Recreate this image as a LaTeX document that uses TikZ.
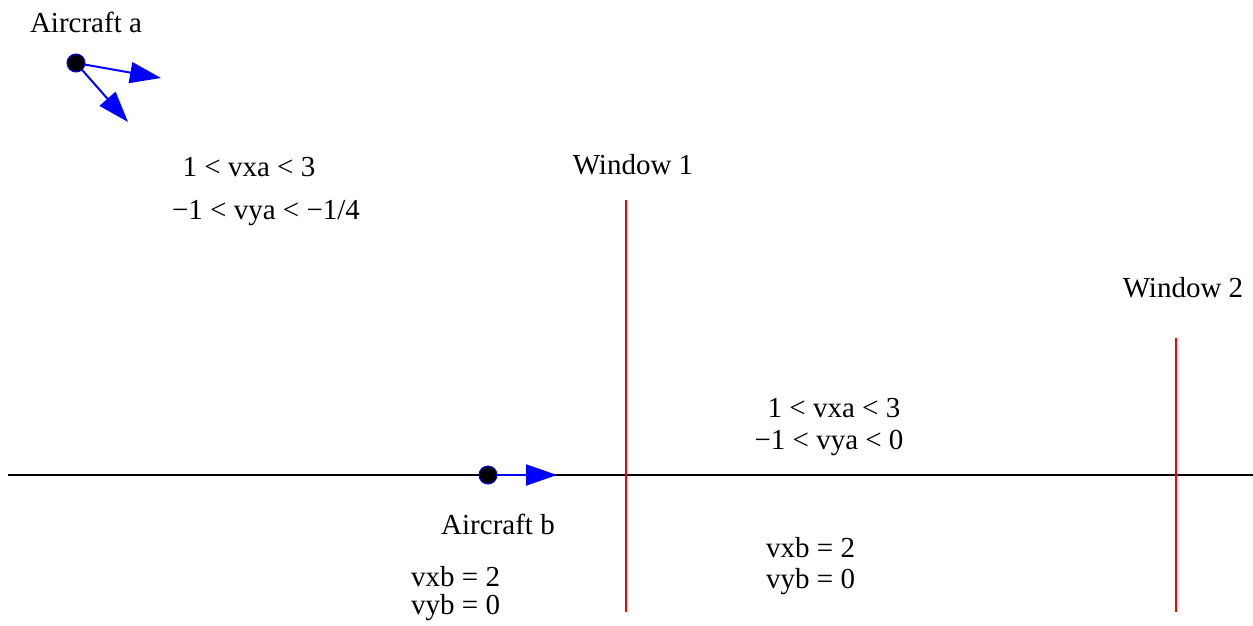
\documentclass[tikz,border=0pt]{standalone}
\usepackage{fontspec}
\setmainfont{Liberation Serif}
\usetikzlibrary{arrows.meta}
\begin{document}
\begin{tikzpicture}[x=1pt,y=-1pt,
  lbl/.style={inner sep=0pt,font=\fontsize{29}{34}\selectfont},
  lblpair/.style={inner sep=0pt,align=left,anchor=north west,font=\fontsize{29}{#1}\selectfont},
  vel/.style={draw=blue,line width=2pt,-{Triangle[length=31pt,width=21pt]},fill=blue},
  plane/.style={circle,draw=blue,fill=black,line width=1pt,minimum size=18pt,inner sep=0pt},
  win/.style={draw=red,line width=1.5pt}]
\useasboundingbox (0,0) rectangle (1253,625);
% horizontal line
\coordinate (hl) at (8,475);
\coordinate (hr) at (1253,475);
\draw[line width=1.2pt] (hl) -- (hr);
% windows
\coordinate (w1t) at (626,200);
\coordinate (w1b) at (626,612);
\coordinate (w2t) at (1176,338);
\coordinate (w2b) at (1176,612);
\draw[win] (w1t) -- (w1b);
\draw[win] (w2t) -- (w2b);
% aircraft a
\coordinate (a1) at (161,78);
\coordinate (a2) at (128,122);
\draw[vel] (76,63) -- (a1);
\draw[vel] (76,63) -- (a2);
\node[plane] (pa) at (76,63) {};
% aircraft b
\coordinate (b1) at (557,475);
\draw[vel] (488,475) -- (b1);
\node[plane] (pb) at (488,475) {};
% labels
\node[lbl] (ta) at (86,22) {Aircraft a};
\node[lbl] (tb) at (498,524) {Aircraft b};
\node[lbl] (c1) at (249,167) {1 < vxa < 3};
\node[lbl] (c2) at (266,213) {−1 < vya < −1/4};
\node[lbl] (win1) at (633,165) {Window 1};
\node[lbl] (win2) at (1183,288) {Window 2};
\node[lbl] (d1) at (834,408) {1 < vxa < 3};
\node[lbl] (d2) at (829,443) {−1 < vya < 0};
\node[lblpair=28] (e) at (411,566) {vxb = 2\\vyb = 0};
\node[lblpair=31] (f) at (766,537) {vxb = 2\\vyb = 0};
\end{tikzpicture}
\end{document}
